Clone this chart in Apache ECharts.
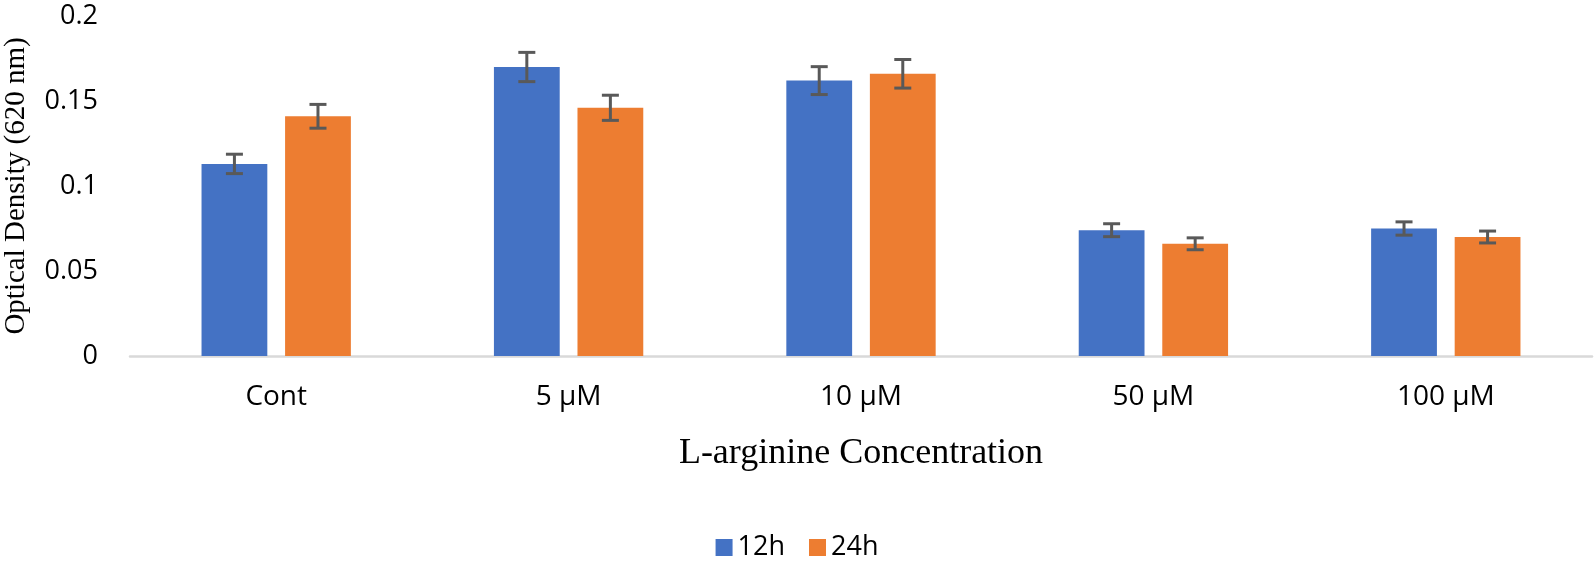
<!DOCTYPE html>
<html>
<head>
<meta charset="utf-8">
<script src="https://cdn.jsdelivr.net/npm/echarts@6/dist/echarts.min.js"></script>
<style>
html,body{margin:0;padding:0;background:#fff;}
#chart{width:1594px;height:566px;}
</style>
</head>
<body>
<div id="chart"></div>
<script>
const categories = ['Cont', '5 µM', '10 µM', '50 µM', '100 µM'];
const seriesNames = ['12h', '24h'];
const values12h = [0.113, 0.170, 0.162, 0.074, 0.075];
const values24h = [0.141, 0.146, 0.166, 0.066, 0.070];
const err12h = [0.0057, 0.0086, 0.0082, 0.0038, 0.0039];
const err24h = [0.0070, 0.0074, 0.0084, 0.0035, 0.0035];
const yTicks = [0, 0.05, 0.1, 0.15, 0.2];

const BAR_W = 0.225, BAR_GAP = 0.27;
const colors = ['#4472C4', '#ED7D31'];

function errData(vals, errs, s) {
  return vals.map((v, i) => [i, v, errs[i], s]);
}

function renderErr(params, api) {
  const idx = api.value(0), v = api.value(1), e = api.value(2), s = api.value(3);
  const band = api.size([1, 0])[0];
  const bw = band * BAR_W;
  const off = (bw / 2 + bw * BAR_GAP / 2) * (s === 0 ? -1 : 1);
  const top = api.coord([idx, v + e]);
  const bot = api.coord([idx, v - e]);
  const x = top[0] + off;
  const hw = 8.5;
  const style = { stroke: '#595959', lineWidth: 3 };
  return {
    type: 'group',
    children: [
      { type: 'line', shape: { x1: x, y1: top[1], x2: x, y2: bot[1] }, style },
      { type: 'line', shape: { x1: x - hw, y1: top[1], x2: x + hw, y2: top[1] }, style },
      { type: 'line', shape: { x1: x - hw, y1: bot[1], x2: x + hw, y2: bot[1] }, style }
    ]
  };
}

const chart = echarts.init(document.getElementById('chart'));
chart.setOption({
  animation: false,
  color: colors,
  grid: { left: 130, right: 2, top: 16, bottom: 210, containLabel: false, outerBoundsMode: 'none' },
  legend: {
    data: seriesNames,
    bottom: 0,
    left: 'center',
    itemWidth: 17,
    itemHeight: 17,
    itemGap: 24,
    icon: 'rect',
    textStyle: { fontFamily: 'Open Sans', fontSize: 27, color: '#000', padding: [0, 0, 0, 0] }
  },
  xAxis: {
    type: 'category',
    data: categories,
    name: 'L-arginine Concentration',
    nameLocation: 'middle',
    nameGap: 80,
    nameTextStyle: { fontFamily: 'Liberation Serif', fontSize: 36, color: '#000' },
    axisLine: { show: true, lineStyle: { color: '#D9D9D9', width: 2.5 } },
    axisTick: { show: false },
    axisLabel: { fontFamily: 'Open Sans', fontSize: 28, color: '#000', margin: 27 }
  },
  yAxis: {
    type: 'value',
    min: 0,
    max: 0.2,
    interval: 0.05,
    name: 'Optical Density (620 nm)',
    nameLocation: 'middle',
    nameGap: 99,
    nameTextStyle: { fontFamily: 'Liberation Serif', fontSize: 29, color: '#000' },
    axisLine: { show: false },
    axisTick: { show: false },
    splitLine: { show: false },
    axisLabel: {
      fontFamily: 'Open Sans', fontSize: 27, color: '#000', margin: 32,
      formatter: v => { const t = yTicks.find(x => Math.abs(x - v) < 1e-9); return t === undefined ? '' : String(t); }
    }
  },
  series: [
    { name: seriesNames[0], type: 'bar', data: values12h, barWidth: (BAR_W * 100) + '%', barGap: (BAR_GAP * 100) + '%', itemStyle: { color: colors[0] } },
    { name: seriesNames[1], type: 'bar', data: values24h, barWidth: (BAR_W * 100) + '%', barGap: (BAR_GAP * 100) + '%', itemStyle: { color: colors[1] } },
    { type: 'custom', renderItem: renderErr, data: errData(values12h, err12h, 0).concat(errData(values24h, err24h, 1)), z: 10, silent: true }
  ]
});
</script>
</body>
</html>
